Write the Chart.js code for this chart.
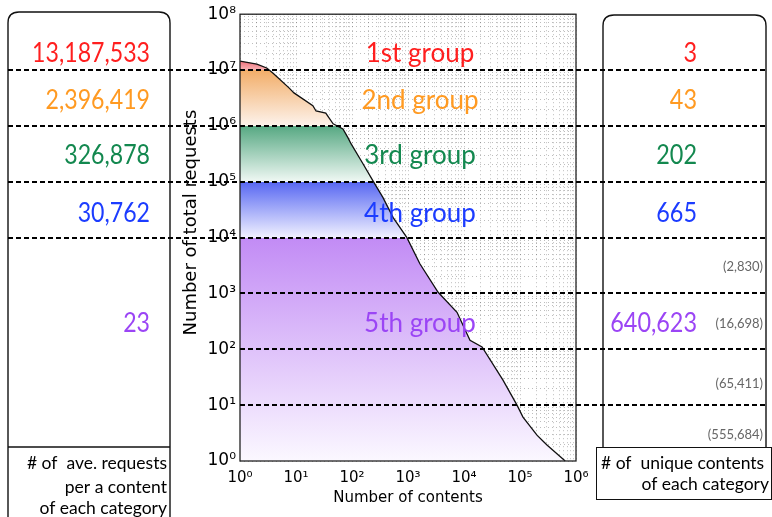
<!DOCTYPE html>
<html><head><meta charset="utf-8">
<script src="https://cdn.jsdelivr.net/npm/chart.js@4.4.0/dist/chart.umd.min.js"></script>
<style>html,body{margin:0;padding:0;background:#fff;overflow:hidden}#wrap{width:772px;height:517px;position:relative}</style>
</head><body><div id="wrap"><canvas id="c" width="772" height="517"></canvas></div>
<script>
// ---- data ----
const contentsRank = [1,2,3,3.9,7.5,9.2,20,22.8,34,46,69,85,96,157,237,358,540,956,1630,3450,7500,12800,21000,49700,88400,113000,201000,303000,641536];
const totalRequests = [1.45e7,1.28e7,1.09e7,8.8e6,4.8e6,3.9e6,2.3e6,1.85e6,1.7e6,1.09e6,8.8e5,6.1e5,4.8e5,2.1e5,1.04e5,5.2e4,2.3e4,1.0e4,3.4e3,1.05e3,460,145,110,28,10,6.1,2.9,1.93,1];
const groupNames = ['1st group','2nd group','3rd group','4th group','5th group'];
const aveRequests = ['13,187,533','2,396,419','326,878','30,762','23'];
const uniqueContents = ['3','43','202','665','640,623'];
const subgroupCounts = ['(2,830)','(16,698)','(65,411)','(555,684)'];
const groupBounds = [1e7,1e6,1e5,1e4];
const subBounds = [1e3,1e2,1e1];
const xTickValues = [];
for (let e=0;e<6;e++) for (let m=1;m<10;m++) xTickValues.push(m*Math.pow(10,e));
xTickValues.push(1e6);
const yTickValues = [];
for (let e=0;e<8;e++) for (let m=1;m<10;m++) yTickValues.push(m*Math.pow(10,e));
yTickValues.push(1e8);
const xTitle = 'Number of contents';
const yTitle = 'Number of total requests';

// ---- style / layout ----
const groupColors = ['#ff1f1f','#ff9a22','#13884f','#1c3cff','#9b45f5'];
const groupLabelLog = [7.29, 6.45, 5.46, 4.43, 2.46];
const subLabelLog = [3.48, 2.46, 1.39, 0.46];
const bands = [
  {hi:Math.pow(10,7.25), lo:1e7, c1:'#ec4a5a', c2:'#f7b4b6'},
  {hi:1e7, lo:1e6, c1:'#f2ad68', c2:'#fdf3ec'},
  {hi:1e6, lo:1e5, c1:'#56a882', c2:'#f0f8f4'},
  {hi:1e5, lo:1e4, c1:'#5767f2', c2:'#f1f1ff'},
  {hi:1e4, lo:1,   c1:'#c28bf5', c2:'#fbf8ff'}
];
const sup = {'0':'⁰','1':'¹','2':'²','3':'³','4':'⁴','5':'⁵','6':'⁶','7':'⁷','8':'⁸','9':'⁹'};
function powLabel(v){
  const e = Math.log10(v);
  if (Math.abs(e-Math.round(e))>1e-9) return '';
  return '10' + String(Math.round(e)).split('').map(d=>sup[d]).join('');
}
const GS = 'Lato, "Open Sans", sans-serif';

function roundRect(ctx,x,y,w,h,r){
  ctx.beginPath();
  ctx.moveTo(x+r,y); ctx.lineTo(x+w-r,y); ctx.quadraticCurveTo(x+w,y,x+w,y+r);
  ctx.lineTo(x+w,y+h-r); ctx.quadraticCurveTo(x+w,y+h,x+w-r,y+h);
  ctx.lineTo(x+r,y+h); ctx.quadraticCurveTo(x,y+h,x,y+h-r);
  ctx.lineTo(x,y+r); ctx.quadraticCurveTo(x,y,x+r,y);
  ctx.closePath();
}
function narrowText(ctx,t,xRight,y,sx){
  ctx.save(); ctx.translate(xRight,y); ctx.scale(sx,1); ctx.textAlign='right'; ctx.fillText(t,0,0); ctx.restore();
}

const overlay = {
  id:'overlay',
  afterDraw(chart){
    const {ctx, chartArea:a, scales:{y}} = chart;
    const ly = l => y.getPixelForValue(Math.pow(10,l));
    ctx.save();
    // plot frame
    ctx.strokeStyle='#222'; ctx.lineWidth=1.3;
    ctx.strokeRect(a.left,a.top,a.right-a.left,a.bottom-a.top);
    // y title
    ctx.save(); ctx.translate(191,(a.top+a.bottom)/2-15); ctx.rotate(-Math.PI/2);
    ctx.font='18px "DejaVu Sans"'; ctx.fillStyle='#000'; ctx.textAlign='center'; ctx.textBaseline='middle';
    ctx.fillText(yTitle,0,0); ctx.restore();
    // left panel
    ctx.lineWidth=1.4; ctx.strokeStyle='#111';
    roundRect(ctx,8,12,162,540,11); ctx.stroke();
    ctx.beginPath(); ctx.moveTo(8,447); ctx.lineTo(170,447); ctx.stroke();
    // right panel
    roundRect(ctx,603,15,163,470,11); ctx.stroke();
    ctx.fillStyle='#fff'; ctx.fillRect(596,447,175,52);
    ctx.lineWidth=1; ctx.strokeRect(596.5,447.5,175,52);
    // dashed boundaries
    ctx.setLineDash([5,3]); ctx.lineWidth=2; ctx.strokeStyle='#000';
    groupBounds.forEach(v=>{const p=Math.round(y.getPixelForValue(v));ctx.beginPath();ctx.moveTo(8,p);ctx.lineTo(766,p);ctx.stroke();});
    subBounds.forEach(v=>{const p=Math.round(y.getPixelForValue(v));ctx.beginPath();ctx.moveTo(a.left,p);ctx.lineTo(766,p);ctx.stroke();});
    ctx.setLineDash([]);
    // texts
    ctx.textBaseline='middle';
    ctx.font = '26px '+GS;
    groupNames.forEach((t,i)=>{
      const py = ly(groupLabelLog[i]);
      ctx.fillStyle=groupColors[i];
      ctx.textAlign='center'; ctx.fillText(t,420,py);
      narrowText(ctx,aveRequests[i],150,py,0.89);
      narrowText(ctx,uniqueContents[i],697,py,0.9);
    });
    ctx.font='13px '+GS; ctx.fillStyle='#666'; ctx.textAlign='right';
    subgroupCounts.forEach((t,i)=>ctx.fillText(t,763,ly(subLabelLog[i])));
    ctx.font='17.5px '+GS; ctx.fillStyle='#000';
    ctx.fillText('# of  ave. requests',167,463);
    ctx.fillText('per a content',167,487);
    ctx.fillText('of each category',167,508);
    ctx.textAlign='left'; ctx.fillText('# of  unique contents',601,463);
    ctx.textAlign='right'; ctx.fillText('of each category',769,484);
    ctx.restore();
  }
};

const gridCommon = {color:'rgba(0,0,0,0.26)', lineWidth:1, drawTicks:false};
new Chart(document.getElementById('c'), {
  type:'line',
  data:{datasets:[{
    data: contentsRank.map((x,i)=>({x, y:totalRequests[i]})),
    borderColor:'#111', borderWidth:1.3, pointRadius:0, tension:0,
    fill:'start',
    backgroundColor(c){
      const ch=c.chart; if(!ch.chartArea) return 'transparent';
      const ys=ch.scales.y;
      const top=ys.getPixelForValue(1e8), bot=ys.getPixelForValue(1);
      const g=ch.ctx.createLinearGradient(0,top,0,bot);
      const f=v=>Math.min(1,Math.max(0,(ys.getPixelForValue(v)-top)/(bot-top)));
      bands.forEach(b=>{g.addColorStop(f(b.hi),b.c1);g.addColorStop(f(b.lo),b.c2);});
      return g;
    }
  }]},
  options:{
    responsive:false, animation:false, events:[],
    layout:{padding:{left:180,right:196,top:13,bottom:0}},
    plugins:{legend:{display:false}, tooltip:{enabled:false}},
    scales:{
      x:{type:'logarithmic', min:1, max:1e6, z:1,
        afterBuildTicks(s){s.ticks=xTickValues.map(v=>({value:v}));},
        afterFit(s){s.height=56;},
        grid:gridCommon, border:{display:false, dash:[1,3]},
        ticks:{autoSkip:false, maxRotation:0, padding:8, color:'#000', font:{family:'DejaVu Sans', size:15}, callback:v=>powLabel(v)},
        title:{display:true, text:xTitle, color:'#000', font:{family:'DejaVu Sans', size:15}, padding:{top:0,bottom:10}}
      },
      y:{type:'logarithmic', min:1, max:1e8, z:1,
        afterBuildTicks(s){s.ticks=yTickValues.map(v=>({value:v}));},
        afterFit(s){s.width=60;},
        grid:gridCommon, border:{display:false, dash:[1,3]},
        ticks:{autoSkip:false, padding:4, color:'#000', font:{family:'DejaVu Sans', size:17}, callback:v=>powLabel(v)},
        title:{display:false, text:yTitle}
      }
    }
  },
  plugins:[overlay]
});
</script></body></html>
